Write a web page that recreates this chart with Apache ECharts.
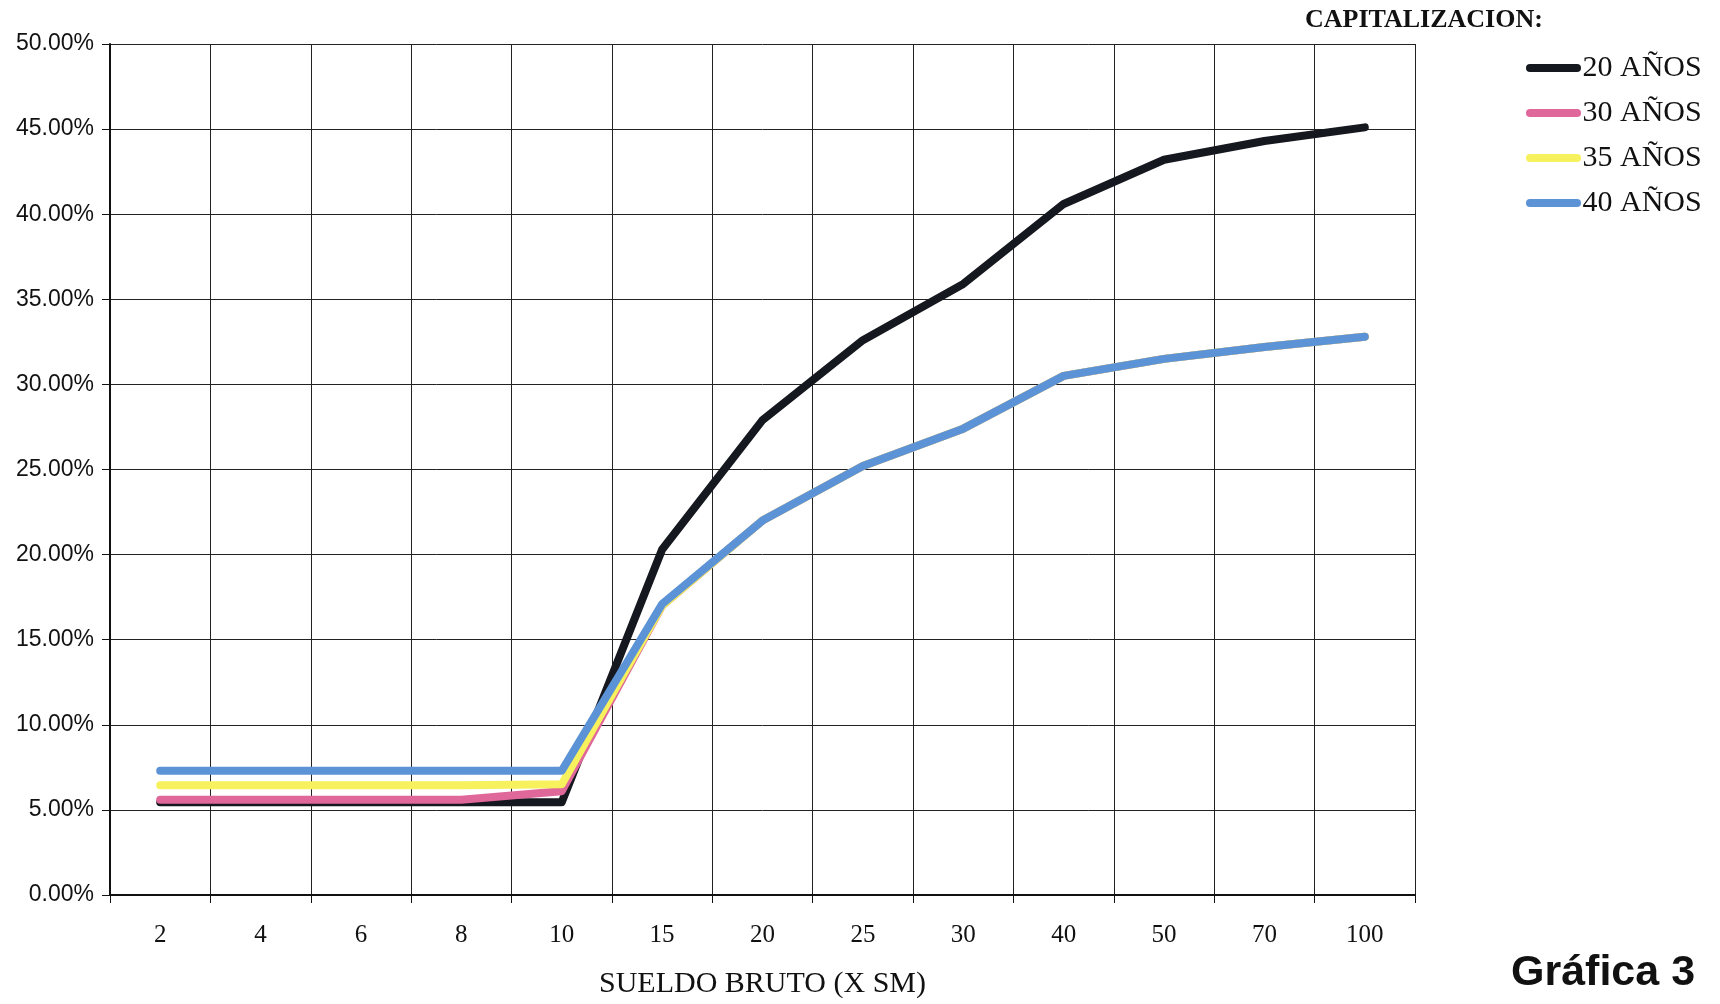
<!DOCTYPE html>
<html>
<head>
<meta charset="utf-8">
<script src="https://cdn.jsdelivr.net/npm/echarts@6/dist/echarts.min.js"></script>
<style>
html,body{margin:0;padding:0;background:#fff;}
#chart{width:1720px;height:1004px;}
</style>
</head>
<body>
<div id="chart"></div>
<script>
const categories = ['2','4','6','8','10','15','20','25','30','40','50','70','100'];
const seriesNames = ['20 AÑOS','30 AÑOS','35 AÑOS','40 AÑOS'];
const anos20 = [5.45,5.45,5.45,5.45,5.45,20.3,27.9,32.6,35.9,40.6,43.2,44.3,45.1];
const anos30 = [5.6,5.6,5.6,5.6,6.1,17.0,22.0,25.2,27.4,30.5,31.5,32.2,32.8];
const anos35 = [6.45,6.45,6.45,6.45,6.5,17.0,22.0,25.2,27.4,30.5,31.5,32.2,32.8];
const anos40 = [7.3,7.3,7.3,7.3,7.3,17.1,22.0,25.2,27.4,30.5,31.5,32.2,32.8];
const colors = ['#16181f','#e0679a','#f6f15c','#5b93d6'];
const yTicks = {min:0,max:50,interval:5};

const chart = echarts.init(document.getElementById('chart'));
const dataSets = [anos20, anos30, anos35, anos40];
const legendIcon = 'path://M4,0 L51,0 A4,4 0 0 1 51,8 L4,8 A4,4 0 0 1 4,0 Z';

chart.setOption({
  backgroundColor:'#ffffff',
  animation:false,
  grid:{left:110,right:305,top:44,bottom:106,containLabel:false},
  legend:{
    orient:'vertical',
    left:1521,
    top:48,
    itemWidth:56,
    itemHeight:8,
    itemGap:15,
    icon:legendIcon,
    data:seriesNames,
    textStyle:{fontFamily:'Liberation Serif',fontSize:30,color:'#111',lineHeight:30,padding:[0,0,0,-4]}
  },
  graphic:[
    {type:'text',left:1305,top:7,style:{text:'CAPITALIZACION:',font:'bold 26px "Liberation Serif"',fill:'#111'}},
    {type:'text',left:1511,top:952,style:{text:'Gráfica 3',font:'bold 43px "Liberation Sans"',fill:'#111'}}
  ],
  xAxis:{
    type:'category',
    data:categories,
    boundaryGap:true,
    name:'SUELDO BRUTO (X SM)',
    nameLocation:'middle',
    nameGap:74,
    nameTextStyle:{fontFamily:'Liberation Serif',fontSize:30,color:'#111'},
    axisLine:{lineStyle:{color:'#111',width:2}},
    axisTick:{show:true,length:8,lineStyle:{color:'#111',width:1}},
    axisLabel:{fontFamily:'Liberation Serif',fontSize:25,color:'#111',margin:28},
    splitLine:{show:true,lineStyle:{color:'#222',width:1}}
  },
  yAxis:{
    type:'value',
    min:yTicks.min,max:yTicks.max,interval:yTicks.interval,
    axisLine:{show:true,lineStyle:{color:'#111',width:2}},
    axisTick:{show:true,length:8,lineStyle:{color:'#111',width:1}},
    axisLabel:{fontFamily:'Liberation Sans',fontSize:23,color:'#111',margin:16,
      formatter:function(v){return v.toFixed(2)+'%';}},
    splitLine:{show:true,lineStyle:{color:'#222',width:1}}
  },
  series: seriesNames.map(function(n,i){
    return {
      name:n,
      type:'line',
      data:dataSets[i],
      symbol:'none',
      color:colors[i],
      lineStyle:{color:colors[i],width:8,cap:'round',join:'round'},
      z:2+i
    };
  })
});
</script>
</body>
</html>
